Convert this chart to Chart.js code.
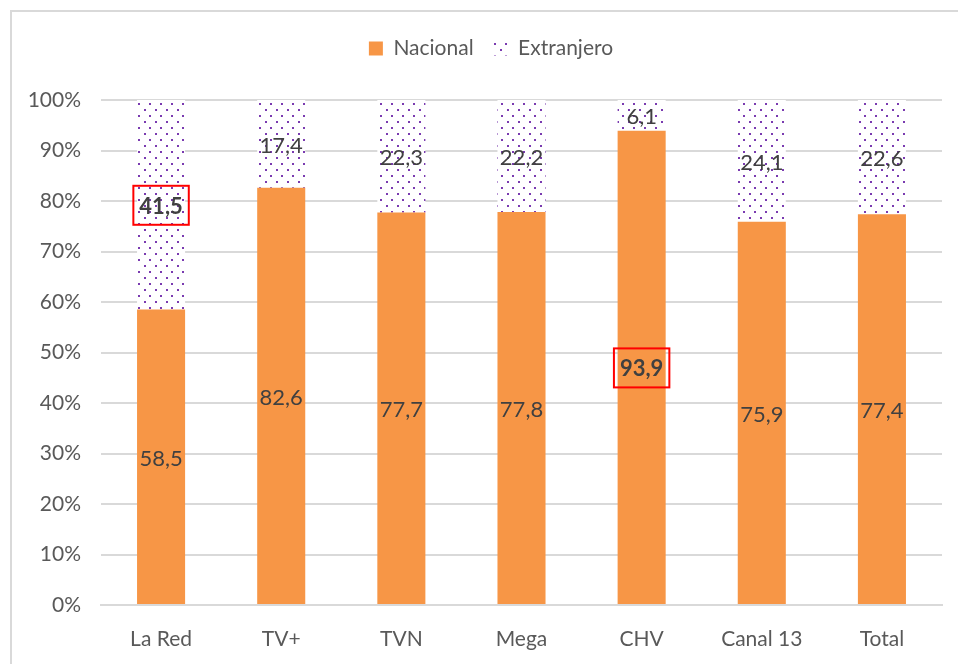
<!DOCTYPE html>
<html lang="es">
<head>
    <meta charset="UTF-8">
    <title>Nacional vs Extranjero</title>
    <script src="https://cdn.jsdelivr.net/npm/chart.js"></script>
    <style>
        body {
            margin: 0;
            background: #fff;
        }
        #wrap {
            width: 958px;
            height: 664px;
        }
    </style>
</head>
<body>
    <div id="wrap"><canvas id="chart" width="958" height="664"></canvas></div>

    <script>
        const canales = ["La Red", "TV+", "TVN", "Mega", "CHV", "Canal 13", "Total"];
        const nacional = [58.5, 82.6, 77.7, 77.8, 93.9, 75.9, 77.4];
        const extranjero = [41.5, 17.4, 22.3, 22.2, 6.1, 24.1, 22.6];
        // etiquetas resaltadas con recuadro rojo: [dataset, indice]
        const resaltados = [[1, 0], [0, 4]];

        const fuente = "Lato, 'Open Sans', sans-serif";

        // patron de puntos morados
        function crearPatron() {
            const c = document.createElement("canvas");
            c.width = 11;
            c.height = 12;
            const p = c.getContext("2d");
            p.fillStyle = "#fff";
            p.fillRect(0, 0, 11, 12);
            p.fillStyle = "#7a3bb0";
            p.fillRect(1, 1, 2, 2);
            p.fillRect(6, 7, 2, 2);
            return p.createPattern(c, "repeat");
        }

        const ctx = document.getElementById("chart").getContext("2d");
        const puntos = crearPatron();

        const marco = {
            id: "marco",
            beforeDraw(chart) {
                const c = chart.ctx;
                c.save();
                c.strokeStyle = "#d9d9d9";
                c.lineWidth = 2;
                c.beginPath();
                c.moveTo(11, chart.height);
                c.lineTo(11, 11);
                c.lineTo(chart.width, 11);
                c.stroke();
                c.restore();
            }
        };

        // deja mas espacio bajo la leyenda y la corre un poco a la derecha
        const espacioLeyenda = {
            id: "espacioLeyenda",
            beforeUpdate(chart) {
                const lg = chart.legend;
                if (lg && !lg._ajustada) {
                    const fitOrig = lg.fit.bind(lg);
                    lg.fit = function () {
                        fitOrig();
                        this.height += 31;
                        this.bottom = this.top + this.height;
                    };
                    const drawOrig = lg.draw.bind(lg);
                    lg.draw = function () {
                        chart.ctx.save();
                        chart.ctx.translate(15, 0);
                        drawOrig();
                        chart.ctx.restore();
                    };
                    lg._ajustada = true;
                }
            }
        };

        const etiquetas = {
            id: "etiquetas",
            afterDatasetsDraw(chart) {
                const c = chart.ctx;
                c.save();
                c.textAlign = "center";
                c.textBaseline = "middle";
                chart.data.datasets.forEach((ds, d) => {
                    const meta = chart.getDatasetMeta(d);
                    meta.data.forEach((bar, i) => {
                        const txt = ds.data[i].toFixed(1).replace(".", ",");
                        const y = (bar.y + bar.base) / 2 + 2;
                        const marcado = resaltados.some(r => r[0] === d && r[1] === i);
                        c.font = (marcado ? "bold " : "") + "22px " + fuente;
                        c.fillStyle = "#404040";
                        c.fillText(txt, bar.x, y);
                        if (marcado) {
                            const w = c.measureText(txt).width + 12;
                            c.strokeStyle = "#ff0000";
                            c.lineWidth = 2;
                            c.strokeRect(bar.x - w / 2, y - 21, w, 39);
                        }
                    });
                });
                c.restore();
            }
        };

        new Chart(ctx, {
            type: "bar",
            data: {
                labels: canales,
                datasets: [
                    {
                        label: "Nacional",
                        data: nacional,
                        backgroundColor: "#f79646",
                        barPercentage: 0.4,
                        categoryPercentage: 1
                    },
                    {
                        label: "Extranjero",
                        data: extranjero,
                        backgroundColor: puntos,
                        barPercentage: 0.4,
                        categoryPercentage: 1
                    }
                ]
            },
            options: {
                responsive: false,
                animation: false,
                layout: {
                    padding: { top: 18, left: 10, right: 16, bottom: 0 }
                },
                plugins: {
                    legend: {
                        position: "top",
                        labels: {
                            font: { family: fuente, size: 21 },
                            color: "#595959",
                            boxWidth: 14,
                            boxHeight: 14,
                            padding: 20
                        }
                    },
                    tooltip: { enabled: false }
                },
                scales: {
                    x: {
                        stacked: true,
                        grid: { display: false },
                        border: { color: "#d9d9d9", width: 2 },
                        ticks: {
                            font: { family: fuente, size: 21 },
                            color: "#595959",
                            padding: 14
                        },
                        afterFit(scale) { scale.height = 59; }
                    },
                    y: {
                        stacked: true,
                        min: 0,
                        max: 100,
                        grid: { color: "#d9d9d9", lineWidth: 2, drawTicks: false },
                        border: { display: false },
                        ticks: {
                            stepSize: 10,
                            font: { family: fuente, size: 21 },
                            color: "#595959",
                            padding: 20,
                            callback: v => v + "%"
                        },
                        afterFit(scale) { scale.width = 91; }
                    }
                }
            },
            plugins: [marco, espacioLeyenda, etiquetas]
        });
    </script>
</body>
</html>
